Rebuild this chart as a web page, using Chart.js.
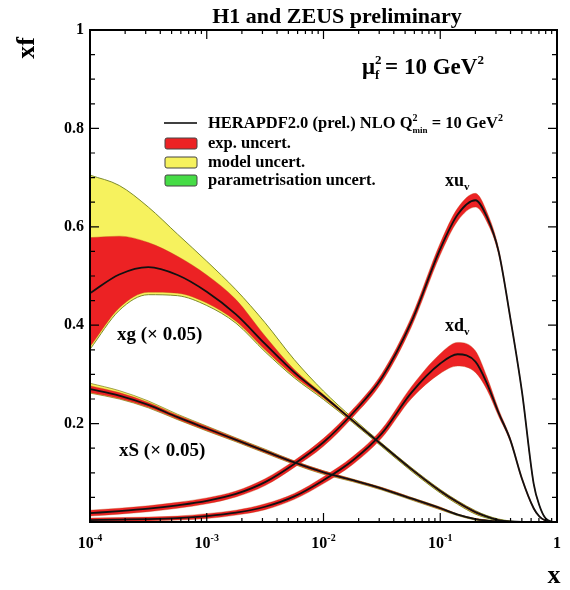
<!DOCTYPE html>
<html>
<head>
<meta charset="utf-8">
<script src="https://cdn.jsdelivr.net/npm/chart.js@4.4.0/dist/chart.umd.min.js"></script>
<style>
  html, body { margin: 0; padding: 0; background: #fff; }
</style>
</head>
<body>
<canvas id="pdfChart" width="570" height="590"></canvas>
<script>
// x grid the curves were read at (log spaced, denser near x = 1)
const xGrid = [1e-4, 1.78e-4, 3.16e-4, 5.62e-4, 1e-3, 1.78e-3, 3.16e-3, 5.62e-3, 1e-2, 1.78e-2, 3.16e-2, 5.62e-2,
               0.1, 0.141, 0.2, 0.251, 0.316, 0.398, 0.501, 0.631, 0.708, 0.794, 0.891, 1];

// gluon (x 0.05)
const xgCentral  = [0.465, 0.503, 0.518, 0.502, 0.468, 0.422, 0.362, 0.304, 0.256, 0.206, 0.157, 0.108, 0.063, 0.040, 0.020, 0.011, 0.004, 0.001, 0, 0, 0, 0, 0, 0];
const xgExpUp    = [0.578, 0.581, 0.568, 0.540, 0.502, 0.452, 0.378, 0.310, 0.259, 0.208, 0.159, 0.110, 0.065, 0.042, 0.022, 0.012, 0.005, 0.001, 0, 0, 0, 0, 0, 0];
const xgExpLow   = [0.356, 0.435, 0.467, 0.465, 0.445, 0.408, 0.350, 0.296, 0.252, 0.204, 0.155, 0.106, 0.061, 0.038, 0.018, 0.010, 0.003, 0.001, 0, 0, 0, 0, 0, 0];
const xgModelUp  = [0.705, 0.684, 0.640, 0.585, 0.530, 0.472, 0.405, 0.330, 0.266, 0.211, 0.160, 0.111, 0.066, 0.043, 0.023, 0.013, 0.006, 0.002, 0, 0, 0, 0, 0, 0];
const xgModelLow = [0.351, 0.430, 0.462, 0.460, 0.440, 0.404, 0.346, 0.293, 0.249, 0.202, 0.153, 0.104, 0.059, 0.036, 0.016, 0.008, 0.002, 0, 0, 0, 0, 0, 0, 0];

// sea (x 0.05)
const xsCentral  = [0.270, 0.257, 0.238, 0.213, 0.190, 0.167, 0.144, 0.121, 0.101, 0.085, 0.068, 0.048, 0.028, 0.015, 0.006, 0.003, 0.001, 0, 0, 0, 0, 0, 0, 0];
const xsExpErr   = [0.007, 0.006, 0.005, 0.004, 0.004, 0.003, 0.003, 0.003, 0.003, 0.002, 0.002, 0.002, 0.002, 0.001, 0.001, 0.001, 0, 0, 0, 0, 0, 0, 0, 0];
const xsModelErr = [0.012, 0.010, 0.008, 0.006, 0.005, 0.004, 0.004, 0.003, 0.003, 0.002, 0.002, 0.002, 0.002, 0.001, 0.001, 0.001, 0, 0, 0, 0, 0, 0, 0, 0];

// valence
const xuvCentral = [0.018, 0.022, 0.027, 0.034, 0.043, 0.057, 0.081, 0.118, 0.162, 0.221, 0.293, 0.405, 0.555, 0.625, 0.654, 0.620, 0.550, 0.415, 0.265, 0.078, 0.033, 0.008, 0.001, 0];
const xuvErr     = [0.006, 0.006, 0.006, 0.006, 0.006, 0.006, 0.007, 0.007, 0.008, 0.008, 0.009, 0.010, 0.012, 0.013, 0.014, 0.010, 0.006, 0.004, 0.003, 0.002, 0.001, 0.001, 0, 0];
const xdvCentral = [0.004, 0.005, 0.006, 0.008, 0.012, 0.019, 0.031, 0.052, 0.085, 0.125, 0.180, 0.262, 0.322, 0.341, 0.326, 0.282, 0.222, 0.167, 0.088, 0.028, 0.011, 0.003, 0, 0];
const xdvErr     = [0.004, 0.004, 0.004, 0.004, 0.005, 0.005, 0.006, 0.006, 0.007, 0.008, 0.009, 0.012, 0.020, 0.024, 0.022, 0.013, 0.007, 0.004, 0.003, 0.002, 0.001, 0.001, 0, 0];

const xTickLabels = ['-4', '-3', '-2', '-1'];
const yTickLabels = [0.2, 0.4, 0.6, 0.8, 1];

const RED = '#ec2224';
const YELLOW = '#f6f25e';
const GREEN = '#46dc46';
const SERIF = '"Liberation Serif", "DejaVu Serif", serif';

function bold(size) {
    return 'bold ' + size + 'px ' + SERIF;
}

function points(arr) {
    return xGrid.map((x, i) => ({ x: x, y: arr[i] }));
}

// two datasets, the second fills back to the first
function band(upper, lower, color, edge, edgeWidth, order) {
    return [
        { data: points(upper), borderColor: edge, borderWidth: edgeWidth, fill: false, order: order },
        { data: points(lower), borderColor: edge, borderWidth: edgeWidth, backgroundColor: color, fill: '-1', order: order }
    ];
}

function centralLine(arr) {
    return { data: points(arr), borderColor: '#111', borderWidth: 1.8, fill: false, order: 1 };
}

const xsUp = xsCentral.map((v, i) => v + xsExpErr[i]);
const xsLow = xsCentral.map((v, i) => Math.max(0, v - xsExpErr[i]));
const xsModelUp = xsCentral.map((v, i) => v + xsModelErr[i]);
const xsModelLow = xsCentral.map((v, i) => Math.max(0, v - xsExpErr[i] - 0.001));

const datasets = [].concat(
    band(xgModelUp, xgModelLow, YELLOW, '#7c8a2c', 1, 10),
    band(xsModelUp, xsModelLow, YELLOW, '#8a8a2c', 0.8, 10),
    band(xgExpUp, xgExpLow, RED, 'rgba(190,70,20,0.6)', 0.6, 5),
    band(xsUp, xsLow, RED, 'rgba(190,70,20,0.6)', 0.6, 5),
    band(xuvCentral.map((v, i) => v + xuvErr[i]), xuvCentral.map((v, i) => Math.max(0, v - xuvErr[i])), RED, 'rgba(190,70,20,0.6)', 0.6, 5),
    band(xdvCentral.map((v, i) => v + xdvErr[i]), xdvCentral.map((v, i) => Math.max(0, v - xdvErr[i])), RED, 'rgba(190,70,20,0.6)', 0.6, 5),
    [centralLine(xgCentral), centralLine(xsCentral), centralLine(xuvCentral), centralLine(xdvCentral)]
);

// draws text pieces with sub/superscripts, left aligned
function drawParts(ctx, x, y, parts) {
    let cx = x;
    parts.forEach(p => {
        ctx.font = bold(p.size);
        ctx.fillText(p.text, cx, y + (p.dy || 0));
        const w = ctx.measureText(p.text).width;
        if (!p.stack) cx += w;
    });
    return cx;
}

const decorations = {
    id: 'decorations',
    afterDatasetsDraw(chart) {
        const ctx = chart.ctx;
        const area = chart.chartArea;
        const xs = chart.scales.x;
        const ys = chart.scales.y;
        ctx.save();
        ctx.strokeStyle = '#000';
        ctx.lineWidth = 2;
        ctx.strokeRect(area.left, area.top, area.right - area.left, area.bottom - area.top);

        ctx.lineWidth = 1.2;
        ctx.beginPath();
        for (let n = -4; n <= 0; n++) {
            for (let k = 1; k <= 9; k++) {
                const v = k * Math.pow(10, n);
                if (v > 1.0001) break;
                const px = xs.getPixelForValue(v);
                const len = k === 1 ? 9 : 4;
                ctx.moveTo(px, area.bottom); ctx.lineTo(px, area.bottom - len);
                ctx.moveTo(px, area.top); ctx.lineTo(px, area.top + len);
            }
        }
        for (let i = 0; i <= 20; i++) {
            const v = i * 0.05;
            const py = ys.getPixelForValue(v);
            const len = i % 4 === 0 ? 9 : 5;
            ctx.moveTo(area.left, py); ctx.lineTo(area.left + len, py);
            ctx.moveTo(area.right, py); ctx.lineTo(area.right - len, py);
        }
        ctx.stroke();
        ctx.restore();
    },
    afterDraw(chart) {
        const ctx = chart.ctx;
        const xs = chart.scales.x;
        ctx.save();
        ctx.fillStyle = '#000';
        ctx.textBaseline = 'alphabetic';

        // x tick labels
        xTickLabels.forEach((e, i) => {
            const px = xs.getPixelForValue(Math.pow(10, -4 + i));
            ctx.font = bold(16);
            const w1 = ctx.measureText('10').width;
            ctx.font = bold(10);
            const w2 = ctx.measureText(e).width;
            drawParts(ctx, px - (w1 + w2) / 2, 548, [
                { text: '10', size: 16 },
                { text: e, size: 10, dy: -7 }
            ]);
        });
        ctx.font = bold(16);
        ctx.textAlign = 'center';
        ctx.fillText('1', xs.getPixelForValue(1), 548);

        // axis titles and title
        ctx.font = bold(26);
        ctx.fillText('x', 554, 583);
        ctx.font = bold(22);
        ctx.fillText('H1 and ZEUS preliminary', 337, 23);
        ctx.save();
        ctx.translate(34, 48);
        ctx.rotate(-Math.PI / 2);
        ctx.font = bold(26);
        ctx.fillText('xf', 0, 0);
        ctx.restore();
        ctx.textAlign = 'left';

        // scale
        drawParts(ctx, 362, 74, [
            { text: '\u03bc', size: 23 },
            { text: '2', size: 13, dy: -10, stack: true },
            { text: 'f', size: 13, dy: 5 },
            { text: ' = 10 GeV', size: 23 },
            { text: '2', size: 13, dy: -10 }
        ]);

        // legend
        ctx.strokeStyle = '#000';
        ctx.lineWidth = 1.5;
        ctx.beginPath();
        ctx.moveTo(164, 123); ctx.lineTo(197, 123);
        ctx.stroke();
        drawParts(ctx, 208, 128, [
            { text: 'HERAPDF2.0 (prel.) NLO Q', size: 16.5 },
            { text: '2', size: 10, dy: -7, stack: true },
            { text: 'min', size: 9, dy: 5 },
            { text: ' = 10 GeV', size: 16.5 },
            { text: '2', size: 10, dy: -7 }
        ]);
        const rows = [[RED, 'exp. uncert.', 138], [YELLOW, 'model uncert.', 157], [GREEN, 'parametrisation uncert.', 175]];
        rows.forEach(r => {
            ctx.fillStyle = r[0];
            ctx.strokeStyle = '#444';
            ctx.lineWidth = 1;
            ctx.beginPath();
            ctx.roundRect(165, r[2], 32, 11, 2);
            ctx.fill();
            ctx.stroke();
            ctx.fillStyle = '#000';
            drawParts(ctx, 208, r[2] + 10, [{ text: r[1], size: 16.5 }]);
        });

        // curve labels
        drawParts(ctx, 445, 186, [{ text: 'xu', size: 18 }, { text: 'v', size: 11, dy: 4 }]);
        drawParts(ctx, 445, 331, [{ text: 'xd', size: 18 }, { text: 'v', size: 11, dy: 4 }]);
        drawParts(ctx, 117, 340, [{ text: 'xg (\u00d7 0.05)', size: 19 }]);
        drawParts(ctx, 119, 456, [{ text: 'xS (\u00d7 0.05)', size: 19 }]);
        ctx.restore();
    }
};

const ctxPdf = document.getElementById('pdfChart').getContext('2d');
const pdfChart = new Chart(ctxPdf, {
    type: 'line',
    data: { datasets: datasets },
    options: {
        responsive: false,
        animation: false,
        layout: { padding: { left: 0, top: 30, right: 13, bottom: 0 } },
        elements: {
            point: { radius: 0 },
            line: { cubicInterpolationMode: 'monotone' }
        },
        plugins: {
            legend: { display: false },
            tooltip: { enabled: false },
            filler: { propagate: false }
        },
        scales: {
            x: {
                type: 'logarithmic',
                min: 1e-4,
                max: 1,
                grid: { display: false, drawTicks: false },
                border: { display: false },
                ticks: { display: false },
                afterFit: s => { s.height = 68; }
            },
            y: {
                min: 0,
                max: 1,
                grid: { display: false, drawTicks: false },
                border: { display: false },
                afterBuildTicks: s => { s.ticks = yTickLabels.map(v => ({ value: v })); },
                ticks: {
                    padding: 6,
                    color: '#000',
                    font: { family: SERIF, size: 16, weight: 'bold' },
                    callback: v => (v === 1 ? '1' : v.toFixed(1))
                },
                afterFit: s => { s.width = 90; }
            }
        }
    },
    plugins: [decorations]
});
</script>
</body>
</html>
